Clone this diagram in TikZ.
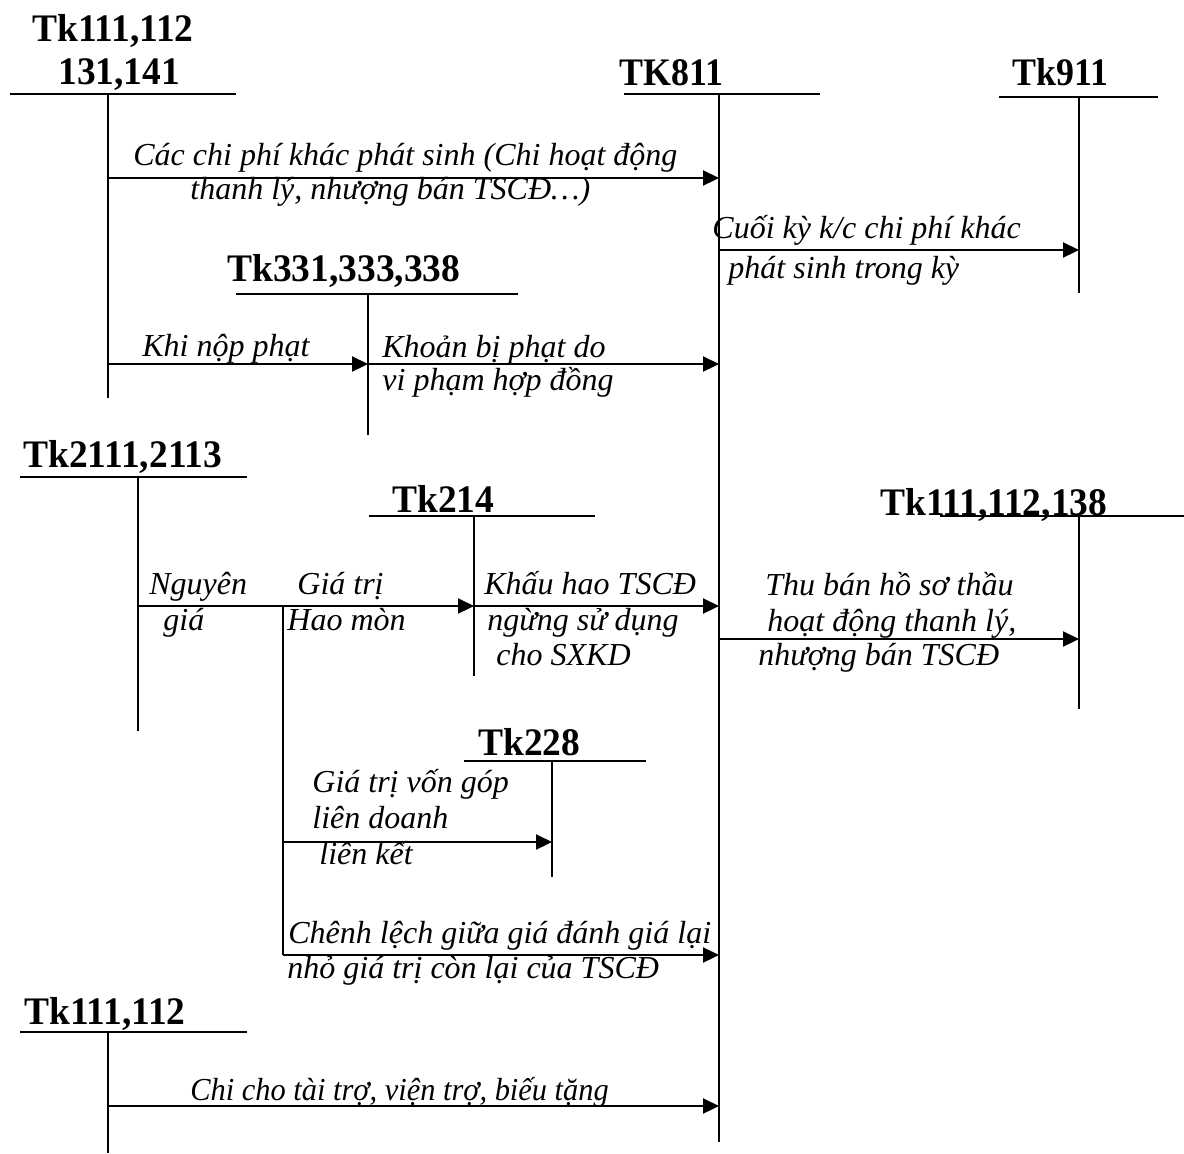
\documentclass[tikz,border=0pt]{standalone}
\usepackage{fontspec}
\setmainfont{Liberation Serif}
\usetikzlibrary{arrows.meta}
\newcommand{\bt}[2][0.96]{\scalebox{#1}[1]{#2}}
\begin{document}
\begin{tikzpicture}[x=0.5pt,y=-0.5pt,
  lbl/.style={font=\fontsize{19.5}{22}\selectfont\bfseries, inner sep=0pt, anchor=base west},
  txt/.style={font=\fontsize{16}{18}\selectfont\itshape, inner sep=0pt, anchor=base west},
  acc/.style={line width=1.1pt},
  arr/.style={line width=1.1pt, -{Triangle[length=8pt,width=7.5pt]}}]
\useasboundingbox (0,0) rectangle (1184,1153);

% ---------- account labels ----------
\node[lbl] (l1a) at (32,41) {\bt{Tk111,112}};
\node[lbl] (l1b) at (58,84) {\bt{131,141}};
\node[lbl] (l811) at (619,85) {\bt[0.92]{TK811}};
\node[lbl] (l911) at (1012,85) {\bt[0.92]{Tk911}};
\node[lbl] (l331) at (227,281) {\bt{Tk331,333,338}};
\node[lbl] (l2111) at (23,467) {\bt{Tk2111,2113}};
\node[lbl] (l214) at (392,512) {\bt{Tk214}};
\node[lbl] (l138) at (880,515) {\bt{Tk111,112,138}};
\node[lbl] (l228) at (478,755) {\bt{Tk228}};
\node[lbl] (l112) at (24,1024) {\bt{Tk111,112}};

% ---------- T accounts ----------
\coordinate (A1) at (108,94);   \coordinate (A1e) at (108,398);
\coordinate (A811) at (719,94); \coordinate (A811e) at (719,1142);
\coordinate (A911) at (1079,97); \coordinate (A911e) at (1079,293);
\coordinate (A331) at (368,294); \coordinate (A331e) at (368,435);
\coordinate (A2111) at (138,477); \coordinate (A2111e) at (138,731);
\coordinate (A214) at (474,516); \coordinate (A214e) at (474,676);
\coordinate (A138) at (1079,516); \coordinate (A138e) at (1079,709);
\coordinate (A228) at (552,761); \coordinate (A228e) at (552,877);
\coordinate (A112) at (108,1032); \coordinate (A112e) at (108,1153);

\draw[acc] (10,94) -- (236,94) (A1) -- (A1e);
\draw[acc] (624,94) -- (820,94) (A811) -- (A811e);
\draw[acc] (999,97) -- (1158,97) (A911) -- (A911e);
\draw[acc] (236,294) -- (518,294) (A331) -- (A331e);
\draw[acc] (20,477) -- (247,477) (A2111) -- (A2111e);
\draw[acc] (369,516) -- (595,516) (A214) -- (A214e);
\draw[acc] (940,516) -- (1184,516) (A138) -- (A138e);
\draw[acc] (464,761) -- (646,761) (A228) -- (A228e);
\draw[acc] (20,1032) -- (247,1032) (A112) -- (A112e);

% ---------- arrow end points ----------
\coordinate (a1s) at (108,178);  \coordinate (a1e) at (719,178);
\coordinate (a2s) at (719,250);  \coordinate (a2e) at (1079,250);
\coordinate (a3s) at (108,364);  \coordinate (a3e) at (368,364);
\coordinate (a4s) at (368,364);  \coordinate (a4e) at (719,364);
\coordinate (a5s) at (138,606);  \coordinate (a5e) at (474,606);
\coordinate (a6s) at (474,606);  \coordinate (a6e) at (719,606);
\coordinate (a7s) at (719,639);  \coordinate (a7e) at (1079,639);
\coordinate (br)  at (283,606);  \coordinate (bre) at (283,955);
\coordinate (a8s) at (283,842);  \coordinate (a8e) at (552,842);
\coordinate (a9e) at (719,955);
\coordinate (a10s) at (108,1106); \coordinate (a10e) at (719,1106);

\draw[arr] (a1s) -- (a1e);
\draw[arr] (a2s) -- (a2e);
\draw[arr] (a3s) -- (a3e);
\draw[arr] (a4s) -- (a4e);
\draw[arr] (a5s) -- (a5e);
\draw[arr] (a6s) -- (a6e);
\draw[arr] (a7s) -- (a7e);
\draw[acc] (br) -- (bre);
\draw[arr] (a8s) -- (a8e);
\draw[arr] (bre) -- (a9e);
\draw[arr] (a10s) -- (a10e);

% ---------- texts ----------
\node[txt] (t1a) at (133,165) {Các chi phí khác phát sinh (Chi hoạt động};
\node[txt] (t1b) at (190,199) {thanh lý, nhượng bán TSCĐ…)};
\node[txt] (t2a) at (712,238) {Cuối kỳ k/c chi phí khác};
\node[txt] (t2b) at (728,278) {phát sinh trong kỳ};
\node[txt] (t3) at (142,356) {Khi nộp phạt};
\node[txt] (t4a) at (382,357) {Khoản bị phạt do};
\node[txt] (t4b) at (382,390) {vi phạm hợp đồng};
\node[txt] (t5a) at (149,594) {Nguyên};
\node[txt] (t5b) at (163,630) {giá};
\node[txt] (t5c) at (297,594) {Giá trị};
\node[txt] (t5d) at (287,630) {Hao mòn};
\node[txt] (t6a) at (484,594) {Khấu hao TSCĐ};
\node[txt] (t6b) at (487,630) {ngừng sử dụng};
\node[txt] (t6c) at (496,665) {cho SXKD};
\node[txt] (t7a) at (765,595) {Thu bán hồ sơ thầu};
\node[txt] (t7b) at (767,631) {hoạt động thanh lý,};
\node[txt] (t7c) at (758,665) {nhượng bán TSCĐ};
\node[txt] (t8a) at (312,792) {Giá trị vốn góp};
\node[txt] (t8b) at (312,828) {liên doanh};
\node[txt] (t8c) at (319,864) {liên kết};
\node[txt] (t9a) at (288,943) {Chênh lệch giữa giá đánh giá lại};
\node[txt] (t9b) at (287,978) {nhỏ giá trị còn lại của TSCĐ};
\node[txt] (t10) at (190,1100) {\scalebox{0.95}[1]{Chi cho tài trợ, viện trợ, biếu tặng}};
\end{tikzpicture}
\end{document}
